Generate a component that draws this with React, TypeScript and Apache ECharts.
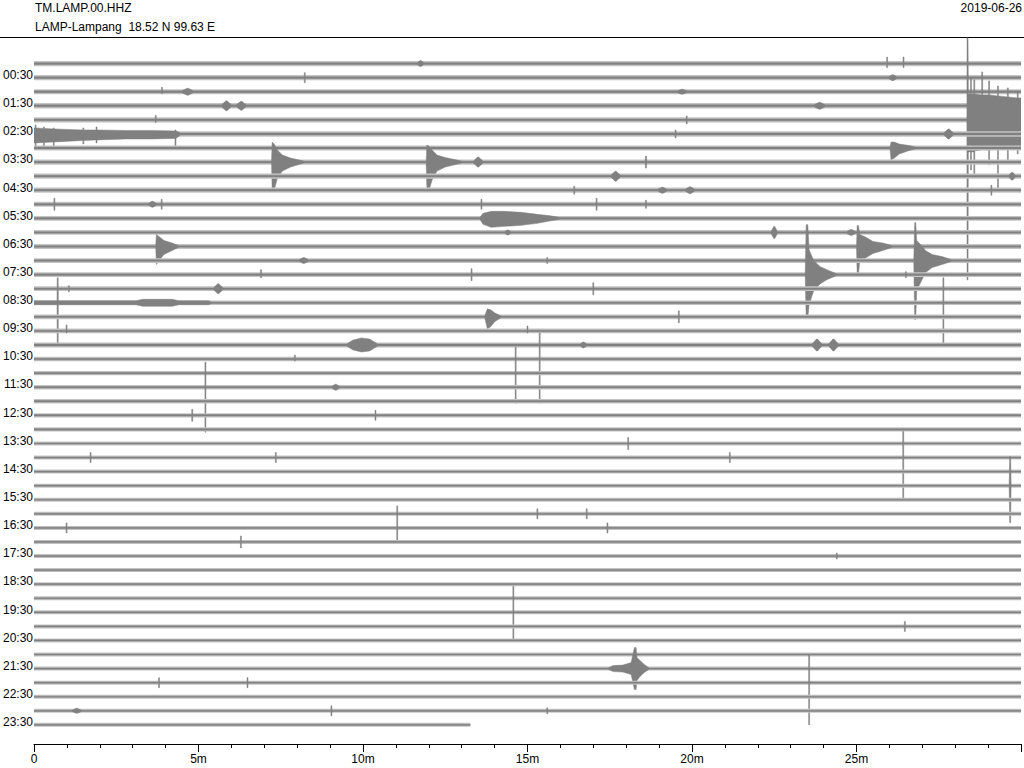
import React, { useEffect, useRef } from 'react';
import * as echarts from 'echarts';

// ---------------- data ----------------
const STATION = 'TM.LAMP.00.HHZ';
const LOCATION = 'LAMP-Lampang  18.52 N 99.63 E';
const DATE = '2019-06-26';

const HOUR_LABELS = ['00:30', '01:30', '02:30', '03:30', '04:30', '05:30', '06:30', '07:30', '08:30', '09:30', '10:30', '11:30',
  '12:30', '13:30', '14:30', '15:30', '16:30', '17:30', '18:30', '19:30', '20:30', '21:30', '22:30', '23:30'];
const X_TICK_LABELS = ['0', '5m', '10m', '15m', '20m', '25m'];

const ROW_MINUTES = 30;
const ROW_COUNT = 48;
const LAST_ROW_END = 13.26; // minutes recorded in the last (23:30) line
const AMP_PER_ROW = 14.07; // amplitude units per line spacing

// steady part of the background noise of every 30-minute line
const ROW_NOISE = [
  0.9, 0.9, 0.9, 1.0, 0.9, 1.0, 0.9, 0.9, 0.9, 0.9, 0.85,
  0.8, 0.8, 0.8, 0.8, 0.8, 0.8,
  0.75, 0.75, 0.75, 1.0, 0.75, 0.75, 0.75, 0.75, 0.75, 0.75,
  0.6, 0.6, 0.6, 0.6, 0.6, 0.6, 0.6, 0.6, 0.6, 0.6, 0.6,
  0.6, 0.6, 0.6, 0.6, 0.6, 0.6, 0.6, 0.6, 0.6, 0.6,
];
// flickering peaks of the background noise of every line
const ROW_FUZZ = [
  2.6, 2.6, 2.6, 2.8, 2.6, 2.8, 2.6, 2.6, 2.6, 2.6, 2.5,
  2.4, 2.4, 2.4, 2.4, 2.4, 2.4,
  2.3, 2.3, 2.3, 2.6, 2.2, 2.2, 2.2, 2.2, 2.2, 2.2,
  2.0, 2.0, 2.0, 2.0, 2.0, 2.0, 2.0, 2.0, 2.0, 2.0, 2.0,
  2.0, 2.0, 2.0, 2.0, 2.0, 2.0, 2.0, 2.0, 2.0, 2.0,
];

// short marks: [line, minute, up, down, width(min)]
const MARKS: number[][] = [
  [0, 11.75, 3, 3, 0.2], [0, 25.93, 6.5, 4, 0.03], [0, 26.43, 6.5, 4, 0.03],
  [1, 8.23, 5, 5, 0.03], [1, 26.1, 3, 3, 0.25],
  [2, 3.89, 4.5, 2, 0.03], [2, 4.67, 3.5, 3.5, 0.35], [2, 19.7, 2.5, 2.5, 0.3],
  [3, 5.85, 5, 5, 0.3], [3, 6.3, 4.5, 4.5, 0.3], [3, 23.88, 3.5, 3.5, 0.35],
  [4, 3.7, 4.5, 2.5, 0.03], [4, 19.84, 4, 4, 0.03],
  [5, 19.5, 4, 4, 0.03], [5, 27.8, 5, 5, 0.3],
  [7, 13.5, 5, 5, 0.3], [7, 18.6, 6, 6, 0.05],
  [8, 17.68, 5, 5, 0.3], [8, 29.73, 4, 4, 0.2],
  [9, 16.42, 4, 4, 0.03], [9, 19.1, 3, 3, 0.3], [9, 19.94, 3.5, 3.5, 0.3], [9, 29.1, 5, 5, 0.03],
  [10, 0.62, 6, 6, 0.03], [10, 3.6, 3, 3, 0.25], [10, 3.88, 5, 5, 0.03], [10, 13.6, 5, 5, 0.03],
  [10, 17.1, 6, 6, 0.03], [10, 18.6, 4, 4, 0.03],
  [12, 14.4, 2.5, 2.5, 0.2], [12, 22.5, 6, 6, 0.2], [12, 24.84, 3, 3, 0.3],
  [14, 8.2, 3, 3, 0.3], [14, 15.6, 3, 3, 0.03],
  [15, 6.9, 5, 3, 0.03], [15, 13.3, 6, 6, 0.03], [15, 26.5, 3, 3, 0.03],
  [16, 1.06, 3, 3, 0.03], [16, 5.6, 5, 5, 0.3], [16, 17.0, 6, 6, 0.03],
  [17, 27.64, 25, 44, 0.03],
  [18, 19.6, 6, 6, 0.03],
  [19, 0.99, 6, 2, 0.03], [19, 15.0, 5, 2, 0.03],
  [20, 16.7, 3, 3, 0.2], [20, 23.8, 6, 6, 0.3], [20, 24.3, 6, 6, 0.3],
  [21, 7.93, 4, 2, 0.03], [21, 15.37, 26, 44, 0.03],
  [22, 14.64, 26, 30, 0.03],
  [23, 5.21, 25, 45, 0.03], [23, 9.17, 3, 3, 0.25],
  [25, 4.81, 6, 6, 0.03], [25, 10.38, 5, 5, 0.03],
  [27, 18.06, 6, 6, 0.03],
  [28, 1.72, 5, 5, 0.03], [28, 7.35, 5, 5, 0.03], [28, 21.15, 5, 5, 0.03], [28, 26.42, 26, 42, 0.03],
  [30, 29.67, 29, 37, 0.06],
  [32, 15.3, 5, 5, 0.03], [32, 16.8, 5, 5, 0.03],
  [33, 0.99, 5, 5, 0.03], [33, 11.04, 22, 15, 0.03], [33, 17.43, 5, 5, 0.03],
  [34, 6.29, 6, 6, 0.03],
  [35, 24.4, 3, 3, 0.03],
  [39, 14.57, 26, 29, 0.03],
  [40, 26.47, 5, 5, 0.03],
  [44, 3.8, 5, 5, 0.03], [44, 6.49, 5, 5, 0.03], [44, 23.56, 28, 42, 0.03],
  [46, 1.3, 2.5, 2.5, 0.3], [46, 9.04, 5, 5, 0.03], [46, 15.6, 3, 3, 0.03],
];

// earthquake envelopes: [minute, up, down]
const QUAKE_BIG: number[][] = [
  [28.355, 1.2, 1.2], [28.36, 82, 160], [28.39, 82, 160], [28.4, 26, 32],
  [28.465, 26, 32], [28.465, 42, 50], [28.495, 42, 50], [28.495, 26, 32],
  [28.565, 26, 32], [28.565, 40, 55], [28.595, 40, 55], [28.595, 26, 31],
  [28.805, 25, 30], [28.805, 48, 26], [28.835, 48, 26], [28.835, 25, 30],
  [29.015, 25, 30], [29.015, 39, 45], [29.045, 39, 45], [29.045, 25, 30],
  [29.285, 24, 29], [29.285, 34, 70], [29.315, 34, 70], [29.315, 24, 29],
  [29.585, 23, 28], [29.585, 32, 42], [29.615, 32, 42], [29.615, 23, 28],
  [29.885, 22, 27], [29.885, 28, 34], [29.915, 28, 34], [29.915, 22, 27],
  [30, 22, 26]];
const CODA_0230: number[][] = [
  [0, 6, 9], [0.035, 6, 9], [0.035, 9, 14], [0.065, 9, 14], [0.065, 6, 9],
  [0.285, 5.5, 8.5], [0.285, 7, 12], [0.315, 7, 12], [0.315, 5.5, 8.5],
  [0.585, 5, 8], [0.585, 6, 13], [0.615, 6, 13], [0.615, 5, 8],
  [1.485, 4, 6.5], [1.485, 6, 10], [1.515, 6, 10], [1.515, 4, 6.5],
  [1.885, 4, 6], [1.885, 7, 9], [1.915, 7, 9], [1.915, 4, 6],
  [2.8, 3.5, 5], [3.6, 3.5, 5],
  [4.285, 3, 4.5], [4.285, 4, 13], [4.315, 4, 13], [4.315, 3, 4.5], [4.45, 1.0, 1.0]];
const QUAKE_0300: number[][] = [[26.02, 1.0, 1.0], [26.05, 6, 12], [26.15, 6, 10], [26.3, 4, 6], [26.6, 2.5, 2.5], [26.8, 1.0, 1.0]];
const QUAKE_0330A: number[][] = [[7.22, 1.0, 1.0], [7.24, 20, 30], [7.3, 18, 28], [7.4, 12, 16], [7.55, 7, 9], [7.8, 4, 5], [8.2, 1.0, 1.0]];
const QUAKE_0330B: number[][] = [[11.92, 1.0, 1.0], [11.94, 17, 25], [12.0, 16, 29], [12.1, 12, 18], [12.25, 7, 9], [12.5, 4.5, 5], [13.0, 1.0, 1.0]];
const QUAKE_0530: number[][] = [[13.55, 0.8, 0.8], [13.65, 5, 6], [13.9, 7, 9], [14.3, 7, 8], [14.8, 6, 7], [15.3, 4, 5], [15.7, 2.5, 2.5], [16.0, 0.8, 0.8]];
const QUAKE_0630A: number[][] = [[3.7, 0.8, 0.8], [3.72, 12, 18], [3.8, 10, 14], [3.95, 6, 8], [4.2, 3.5, 4], [4.4, 0.8, 0.8]];
const QUAKE_0630B: number[][] = [[25.0, 0.8, 0.8], [25.02, 21, 28], [25.06, 21, 28], [25.1, 12, 14], [25.3, 9, 11], [25.5, 5, 7], [25.8, 3.5, 4], [26.1, 0.8, 0.8]];
const QUAKE_0700: number[][] = [[26.74, 0.8, 0.8], [26.77, 38, 59], [26.8, 38, 59], [26.83, 20, 30], [26.95, 16, 22], [27.1, 10, 12],
  [27.3, 6, 7], [27.6, 4, 4], [27.9, 0.8, 0.8]];
const QUAKE_0730: number[][] = [[23.44, 0.8, 0.8], [23.47, 50, 43], [23.52, 50, 43], [23.56, 25, 30], [23.7, 14, 16], [23.9, 8, 9],
  [24.1, 5, 5], [24.4, 0.8, 0.8]];
const NOISY_0830: number[][] = [[0, 2.0, 2.0], [0.7, 2.0, 2.0], [0.705, 25, 44], [0.735, 25, 44], [0.74, 2.0, 2.0], [3.1, 2.0, 2.0],
  [3.3, 3.5, 3.5], [4.2, 3.5, 3.5], [4.4, 2.0, 2.0], [5.3, 2.0, 2.0], [5.4, 0.75, 0.75]];
const QUAKE_0900: number[][] = [[13.7, 0.75, 0.75], [13.78, 8, 12], [13.88, 7, 10], [14.0, 4, 5], [14.2, 0.75, 0.75]];
const SPINDLE_1000: number[][] = [[9.5, 1.0, 1.0], [9.7, 5, 5], [9.95, 7, 7], [10.2, 6, 6], [10.45, 1.0, 1.0]];
const QUAKE_2130: number[][] = [[17.45, 0.6, 0.6], [17.6, 3, 3], [17.9, 3.5, 3.5], [18.15, 6, 6], [18.25, 21, 21], [18.3, 21, 21],
  [18.33, 11, 12], [18.42, 8, 8], [18.55, 4, 4], [18.7, 0.6, 0.6]];

const QUAKES: [number, number[][]][] = [
  [4, QUAKE_BIG], [5, CODA_0230], [6, QUAKE_0300], [7, QUAKE_0330A], [7, QUAKE_0330B], [11, QUAKE_0530],
  [13, QUAKE_0630A], [13, QUAKE_0630B], [14, QUAKE_0700], [15, QUAKE_0730], [17, NOISY_0830], [18, QUAKE_0900],
  [20, SPINDLE_1000], [43, QUAKE_2130],
];

// ---------------- envelope assembly ----------------
type Env = { upper: number[][]; lower: number[][]; end: number };

function buildEnvelopes(): Env[] {
  const envs: Env[] = [];
  for (let r = 0; r < ROW_COUNT; r++) {
    const base = ROW_NOISE[r];
    const end = r === ROW_COUNT - 1 ? LAST_ROW_END : ROW_MINUTES;
    const feats: number[][][] = [];
    QUAKES.forEach(([row, pts]) => { if (row === r) feats.push(pts); });
    MARKS.forEach(([row, t, up, down, w]) => {
      if (row !== r) return;
      if (w <= 0.04) feats.push([[t - w / 2, up, down], [t + w / 2, up, down]]);
      else feats.push([[t - w / 2, base, base], [t - 0.015, up, down], [t + 0.015, up, down], [t + w / 2, base, base]]);
    });
    feats.sort((a, b) => a[0][0] - b[0][0]);
    const upper: number[][] = [[0, base]];
    const lower: number[][] = [[0, base]];
    feats.forEach((pts) => {
      upper.push([pts[0][0], base]);
      lower.push([pts[0][0], base]);
      pts.forEach(([t, u, d]) => { upper.push([t, u]); lower.push([t, d]); });
      const last = pts[pts.length - 1][0];
      upper.push([last, base]);
      lower.push([last, base]);
    });
    upper.push([end, base]);
    lower.push([end, base]);
    envs.push({ upper, lower, end });
  }
  return envs;
}

const ENVELOPES = buildEnvelopes();
const ROWS = Array.from({ length: ROW_COUNT }, (_, i) => [0, i]);
const TRACE = '#808080';
const FUZZ = '#c4c4c4';

export default function App() {
  const ref = useRef<HTMLDivElement>(null);
  useEffect(() => {
    if (!ref.current) return;
    const chart = echarts.init(ref.current, null, { renderer: 'svg' });
    const font = 'Liberation Sans';
    chart.setOption({
      animation: false,
      backgroundColor: '#ffffff',
      grid: [
        { left: 34, right: 0, top: 35.46, bottom: 24 },
        { left: 34, right: 0, top: 32.76, bottom: 26.7 },
      ],
      xAxis: [{
        type: 'value', min: 0, max: ROW_MINUTES, interval: 5, gridIndex: 0,
        axisLine: { show: true, onZero: false, lineStyle: { color: '#000', width: 1 } },
        axisTick: { show: true, length: 8, lineStyle: { color: '#000' } },
        minorTick: { show: true, splitNumber: 5, length: 4, lineStyle: { color: '#000' } },
        splitLine: { show: false },
        axisLabel: {
          margin: 9, color: '#000', fontSize: 12, fontFamily: font,
          formatter: (v: number) => X_TICK_LABELS[Math.round(v / 5)] ?? '',
        },
      }, {
        type: 'value', min: 0, max: ROW_MINUTES, gridIndex: 1, show: false,
      }],
      yAxis: [{
        type: 'value', inverse: true, min: -2, max: 48.36, interval: 1, gridIndex: 0,
        axisLine: { show: false }, axisTick: { show: false }, splitLine: { show: false }, axisLabel: { show: false },
      }, {
        type: 'value', inverse: true, min: -2, max: 48.36, interval: 1, gridIndex: 1,
        axisLine: { show: false }, axisTick: { show: false }, splitLine: { show: false },
        axisLabel: {
          margin: 4, color: '#000', fontSize: 12, fontFamily: font,
          formatter: (v: number) => (Number.isInteger(v) && v % 2 === 1 ? HOUR_LABELS[(v - 1) / 2] ?? '' : ''),
        },
      }],
      graphic: [
        { type: 'text', left: 35, top: 2, style: { text: STATION, font: `12px "${font}"`, fill: '#000' } },
        { type: 'text', left: 35, top: 21, style: { text: LOCATION, font: `12px "${font}"`, fill: '#000' } },
        { type: 'text', right: 2, top: 2, style: { text: DATE, font: `12px "${font}"`, fill: '#000' } },
        { type: 'line', shape: { x1: 0, y1: 37.5, x2: 1024, y2: 37.5 }, style: { stroke: '#000', lineWidth: 1 } },
      ],
      series: [{
        type: 'custom',
        clip: true,
        xAxisIndex: 0,
        yAxisIndex: 0,
        data: ROWS,
        encode: { x: 0, y: 1 },
        renderItem: (_params: any, api: any) => {
          const row = api.value(1) as number;
          const env = ENVELOPES[row];
          const fz = ROW_FUZZ[row] / AMP_PER_ROW;
          const halo = [
            api.coord([0, row - fz]), api.coord([env.end, row - fz]),
            api.coord([env.end, row + fz]), api.coord([0, row + fz]),
          ];
          const pts: number[][] = [];
          env.upper.forEach(([t, a]) => pts.push(api.coord([t, row - a / AMP_PER_ROW])));
          for (let k = env.lower.length - 1; k >= 0; k--) {
            const [t, a] = env.lower[k];
            pts.push(api.coord([t, row + a / AMP_PER_ROW]));
          }
          return {
            type: 'group',
            children: [
              { type: 'polygon', shape: { points: halo }, style: { fill: FUZZ } },
              { type: 'polygon', shape: { points: pts }, style: { fill: TRACE, stroke: TRACE, lineWidth: 0.5 } },
            ],
          };
        },
      }],
    });
    return () => chart.dispose();
  }, []);
  return <div ref={ref} style={{ position: 'fixed', left: 0, top: 0, width: 1024, height: 768 }} />;
}
